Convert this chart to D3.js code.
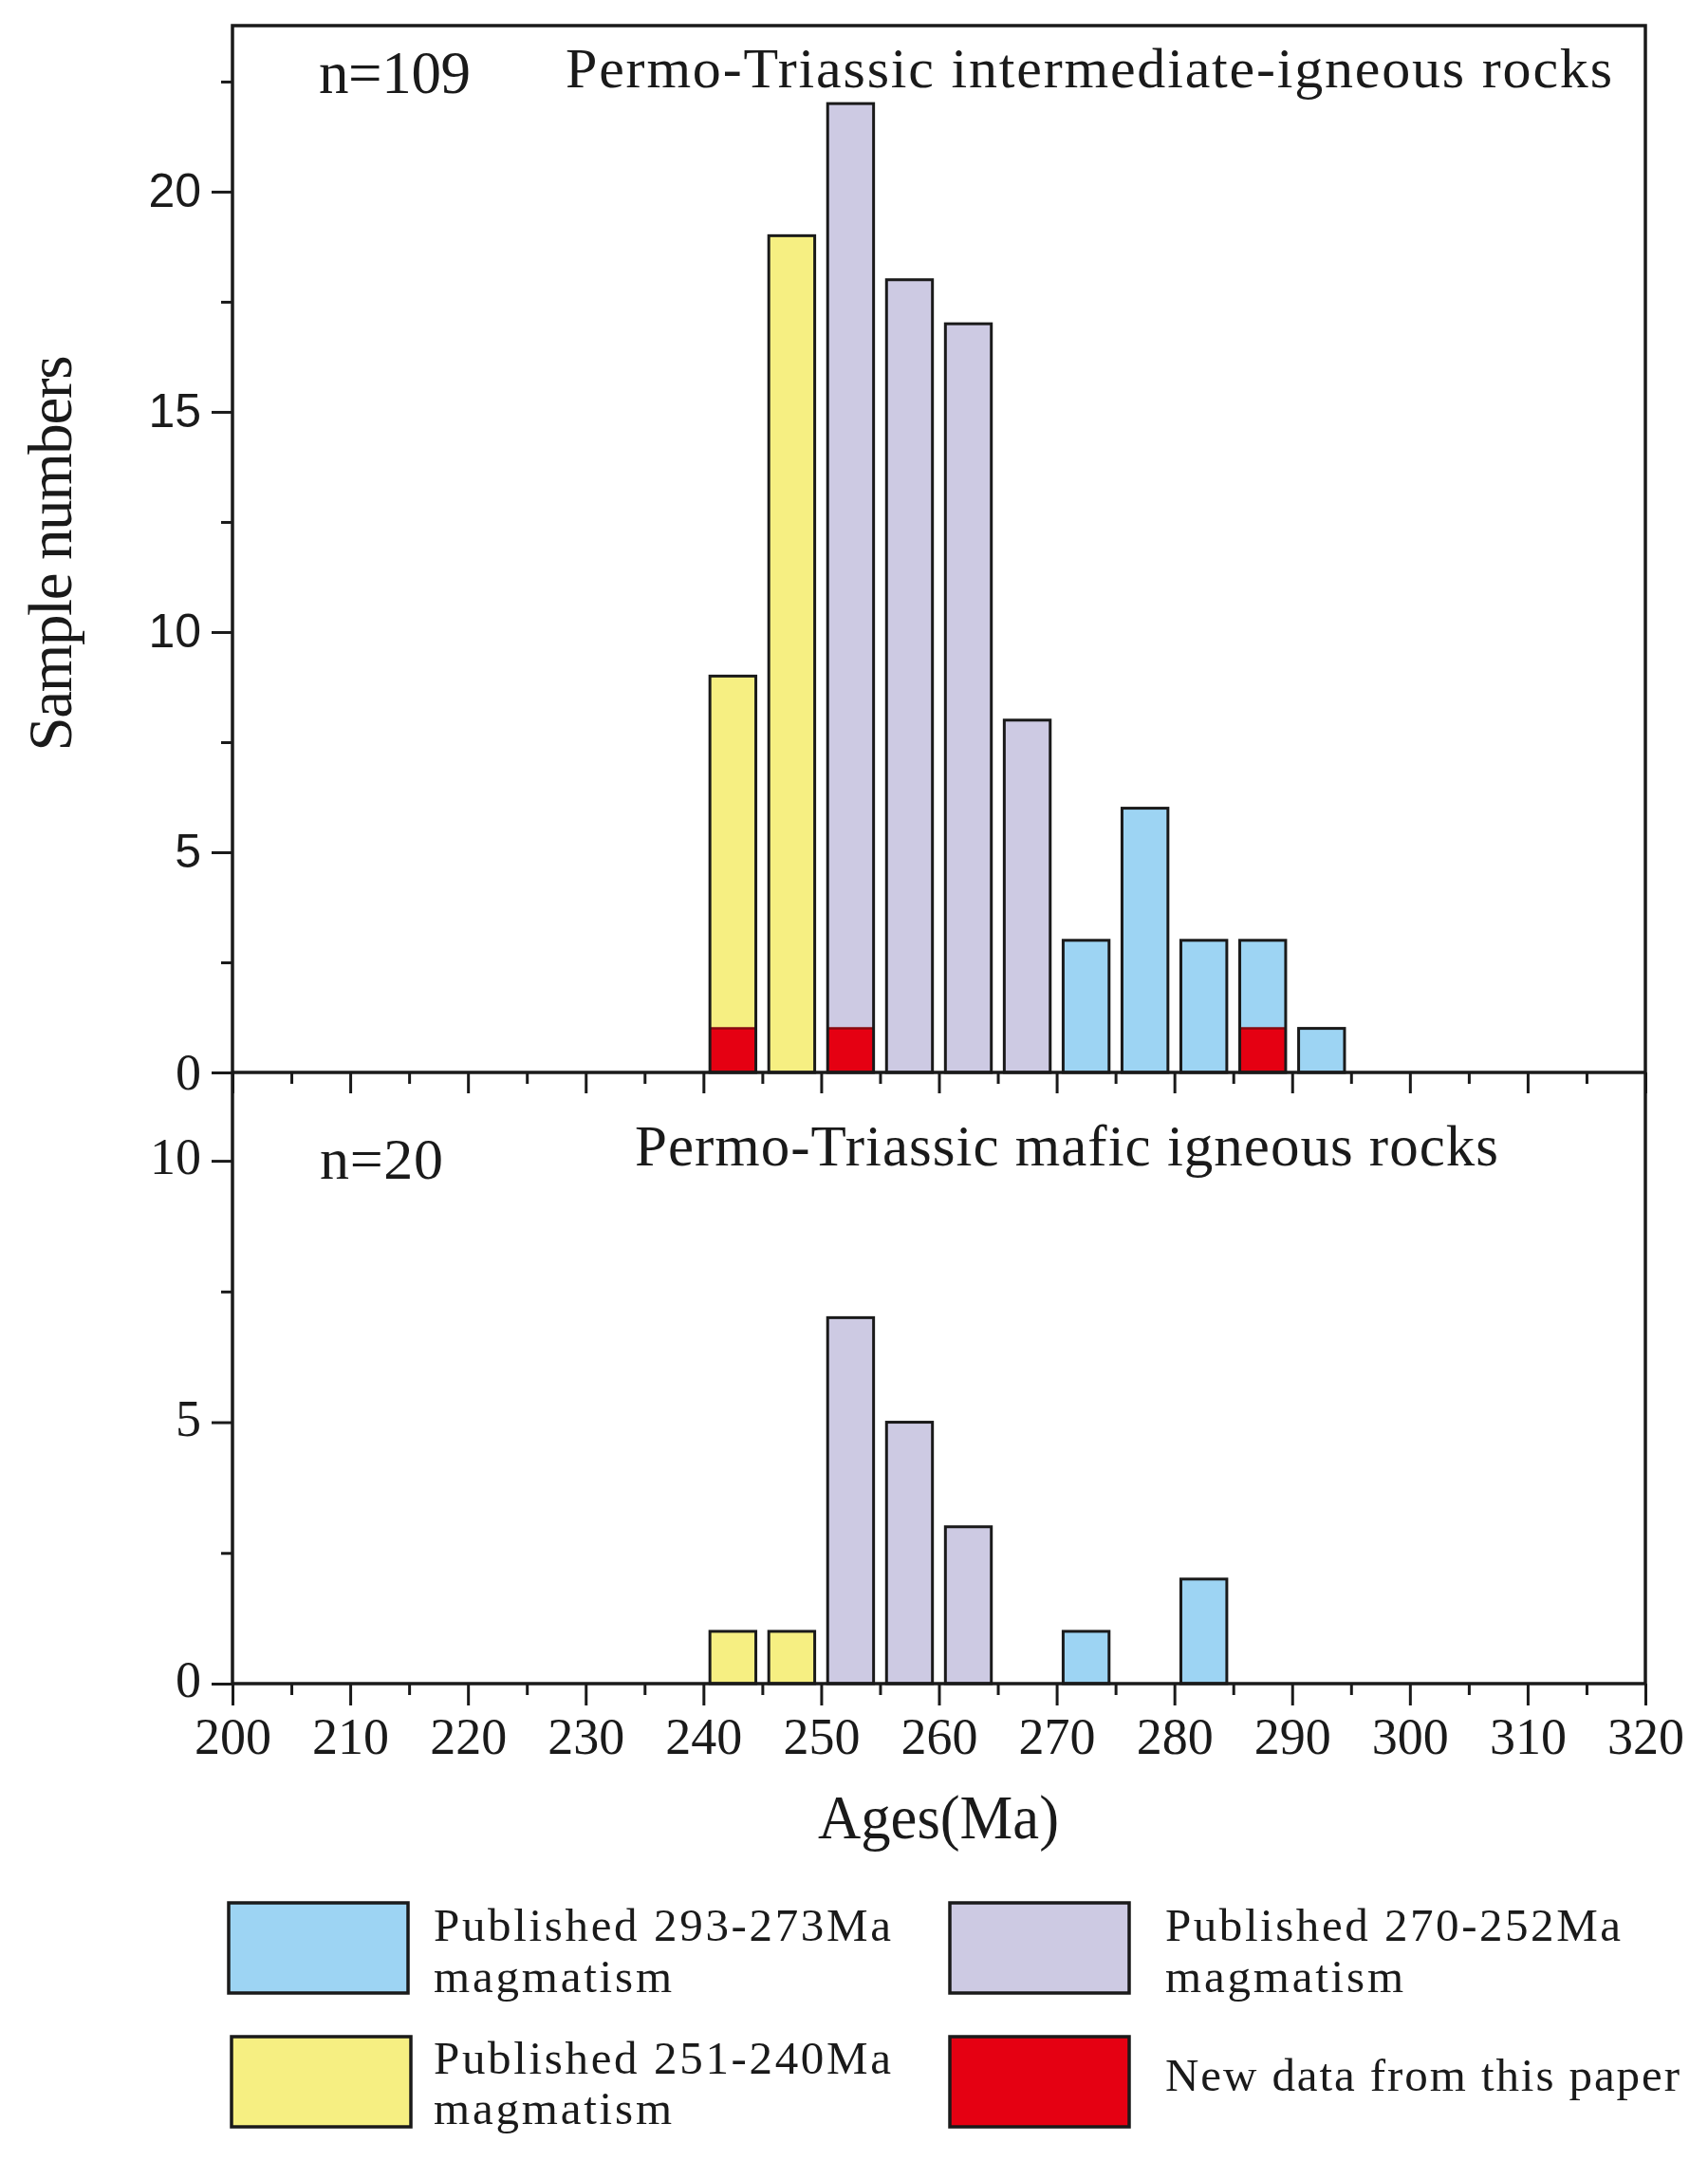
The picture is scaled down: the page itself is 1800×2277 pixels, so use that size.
<!DOCTYPE html>
<html>
<head>
<meta charset="utf-8">
<script src="https://cdn.jsdelivr.net/npm/d3@7/dist/d3.min.js"></script>
<style>
  html, body { margin: 0; padding: 0; background: #ffffff; }
  svg { display: block; }
</style>
</head>
<body>
<script>
// ---------------- DATA ----------------
const binStarts   = [240, 245, 250, 255, 260, 265, 270, 275, 280, 285, 290];
const binGroups   = ["g251_240", "g251_240", "g270_252", "g270_252", "g270_252", "g270_252",
                     "g293_273", "g293_273", "g293_273", "g293_273", "g293_273"];
const upperCounts = [9, 19, 22, 18, 17, 8, 3, 6, 3, 3, 1];
const upperNew    = [1, 0, 1, 0, 0, 0, 0, 0, 0, 1, 0];
const lowerCounts = [1, 1, 7, 5, 3, 0, 1, 0, 2, 0, 0];

const groupKeys   = ["g293_273", "g270_252", "g251_240", "newData"];
const groupColors = ["#9dd4f3", "#cdcae3", "#f6ef82", "#e50012"];
const legendLines = [["Published 293-273Ma", "magmatism"],
                     ["Published 270-252Ma", "magmatism"],
                     ["Published 251-240Ma", "magmatism"],
                     ["New data from this paper"]];

const xMajorTicks  = [200, 210, 220, 230, 240, 250, 260, 270, 280, 290, 300, 310, 320];
const xMinorTicks  = [205, 215, 225, 235, 245, 255, 265, 275, 285, 295, 305, 315];
const upMajorTicks = [0, 5, 10, 15, 20];
const upMinorTicks = [2.5, 7.5, 12.5, 17.5, 22.5];
const loMajorTicks = [0, 5, 10];
const loMinorTicks = [2.5, 7.5];

const upperTitle = "Permo-Triassic intermediate-igneous rocks";
const upperN     = "n=109";
const lowerTitle = "Permo-Triassic mafic igneous rocks";
const lowerN     = "n=20";
const xTitle     = "Ages(Ma)";
const yTitle     = "Sample numbers";

// ---------------- SETUP ----------------
const W = 1800, H = 2277;
const SERIF = "'Liberation Serif', 'Times New Roman', serif";
const SANS  = "'Liberation Sans', Arial, sans-serif";
const INK = "#1a1a1a";

const color = d3.scaleOrdinal().domain(groupKeys).range(groupColors);

const svg = d3.select("body").append("svg")
  .attr("width", W).attr("height", H)
  .attr("viewBox", `0 0 ${W} ${H}`);

svg.append("rect").attr("width", W).attr("height", H).attr("fill", "#ffffff");

const pL = 245, pR = 1734, pT = 27, pM = 1130, pB = 1774;

const x  = d3.scaleLinear().domain([200, 320]).range([pL, pR]);
const yU = d3.scaleLinear().domain([0, 23.77]).range([pM, pT]);
const yL = d3.scaleLinear().domain([0, 11.69]).range([pB, pM]);

const barW0 = 0.55, barW1 = 4.45;

// ---------------- BARS ----------------
function drawBars(g, counts, yScale, newCounts) {
  const data = binStarts.map((b, i) => ({ b, v: counts[i], grp: binGroups[i], n: newCounts ? newCounts[i] : 0 }))
                        .filter(d => d.v > 0);
  g.selectAll("rect.bar").data(data).join("rect")
    .attr("class", "bar")
    .attr("x", d => x(d.b + barW0))
    .attr("width", d => x(d.b + barW1) - x(d.b + barW0))
    .attr("y", d => yScale(d.v))
    .attr("height", d => yScale(0) - yScale(d.v))
    .attr("fill", d => color(d.grp))
    .attr("stroke", "none");
  const nd = data.filter(d => d.n > 0);
  g.selectAll("rect.newd").data(nd).join("rect")
    .attr("class", "newd")
    .attr("x", d => x(d.b + barW0))
    .attr("width", d => x(d.b + barW1) - x(d.b + barW0))
    .attr("y", d => yScale(d.n))
    .attr("height", d => yScale(0) - yScale(d.n))
    .attr("fill", color("newData"));
  g.selectAll("line.newtop").data(nd).join("line")
    .attr("class", "newtop")
    .attr("x1", d => x(d.b + barW0)).attr("x2", d => x(d.b + barW1))
    .attr("y1", d => yScale(d.n)).attr("y2", d => yScale(d.n))
    .attr("stroke", "#8a0a10").attr("stroke-width", 2.5);
  g.selectAll("rect.outline").data(data).join("rect")
    .attr("class", "outline")
    .attr("x", d => x(d.b + barW0))
    .attr("width", d => x(d.b + barW1) - x(d.b + barW0))
    .attr("y", d => yScale(d.v))
    .attr("height", d => yScale(0) - yScale(d.v))
    .attr("fill", "none")
    .attr("stroke", INK).attr("stroke-width", 3);
}

drawBars(svg.append("g"), upperCounts, yU, upperNew);
drawBars(svg.append("g"), lowerCounts, yL, null);

// ---------------- AXES ----------------
function styleAxis(g) {
  g.select(".domain").remove();
  g.selectAll(".tick line").attr("stroke", INK).attr("stroke-width", 3);
}

// Middle x axis (upper panel bottom) - no labels
svg.append("g").attr("transform", `translate(0,${pM})`)
  .call(d3.axisBottom(x).tickValues(xMajorTicks).tickSize(22).tickFormat(""))
  .call(styleAxis);
svg.append("g").attr("transform", `translate(0,${pM})`)
  .call(d3.axisBottom(x).tickValues(xMinorTicks).tickSize(12).tickFormat(""))
  .call(styleAxis);

// Bottom x axis with labels
const xb = svg.append("g").attr("transform", `translate(0,${pB})`)
  .call(d3.axisBottom(x).tickValues(xMajorTicks).tickSize(23).tickPadding(13).tickFormat(d3.format("d")))
  .call(styleAxis);
xb.selectAll("text").attr("font-family", SERIF).attr("font-size", 54).attr("fill", INK);
svg.append("g").attr("transform", `translate(0,${pB})`)
  .call(d3.axisBottom(x).tickValues(xMinorTicks).tickSize(12).tickFormat(""))
  .call(styleAxis);

// Upper y axis
const yu = svg.append("g").attr("transform", `translate(${pL},0)`)
  .call(d3.axisLeft(yU).tickValues(upMajorTicks).tickSize(22).tickPadding(11).tickFormat(d3.format("d")))
  .call(styleAxis);
yu.selectAll("text")
  .attr("font-family", d => d === 0 ? SERIF : SANS)
  .attr("font-size", d => d === 0 ? 54 : 50)
  .attr("fill", INK);
svg.append("g").attr("transform", `translate(${pL},0)`)
  .call(d3.axisLeft(yU).tickValues(upMinorTicks).tickSize(12).tickFormat(""))
  .call(styleAxis);

// Lower y axis
const yl = svg.append("g").attr("transform", `translate(${pL},0)`)
  .call(d3.axisLeft(yL).tickValues(loMajorTicks).tickSize(22).tickPadding(11).tickFormat(d3.format("d")))
  .call(styleAxis);
yl.selectAll("text").attr("font-family", SERIF).attr("font-size", 54).attr("fill", INK)
  .attr("dy", "0.25em");
svg.append("g").attr("transform", `translate(${pL},0)`)
  .call(d3.axisLeft(yL).tickValues(loMinorTicks).tickSize(12).tickFormat(""))
  .call(styleAxis);

// Frame and middle axis line
svg.append("rect")
  .attr("x", pL).attr("y", pT)
  .attr("width", pR - pL).attr("height", pB - pT)
  .attr("fill", "none").attr("stroke", INK).attr("stroke-width", 3.5);
svg.append("line")
  .attr("x1", pL).attr("x2", pR).attr("y1", pM).attr("y2", pM)
  .attr("stroke", INK).attr("stroke-width", 3.5);

// ---------------- TEXT ----------------
function txt(s, xx, yy, size, len, opts = {}) {
  const t = svg.append("text")
    .attr("x", xx).attr("y", yy)
    .attr("font-family", opts.family || SERIF)
    .attr("font-size", size)
    .attr("fill", INK)
    .text(s);
  if (len) t.attr("textLength", len).attr("lengthAdjust", opts.adjust || "spacing");
  if (opts.anchor) t.attr("text-anchor", opts.anchor);
  if (opts.transform) t.attr("transform", opts.transform);
  return t;
}

txt(upperN, 336, 98, 63, 160);
txt(upperTitle, 596, 92, 60, 1103);
txt(lowerN, 337, 1242, 62, 130);
txt(lowerTitle, 669, 1228, 61, 910);
txt(xTitle, 862, 1937, 66, 254, { adjust: "spacingAndGlyphs" });
txt(yTitle, 0, 0, 65, 417, { anchor: "middle", transform: "translate(75,583) rotate(-90)" });

// ---------------- LEGEND ----------------
const legendPos = [
  { bx: 241, by: 2005, tx: 457, ty: [2045, 2099], lens: [482, 251] },
  { bx: 1001, by: 2005, tx: 1228, ty: [2045, 2099], lens: [480, 251] },
  { bx: 244, by: 2146, tx: 457, ty: [2185, 2238], lens: [482, 251] },
  { bx: 1001, by: 2146, tx: 1228, ty: [2203], lens: [542] }
];
const boxW = 189, boxH = 95;
groupKeys.forEach((k, i) => {
  const p = legendPos[i];
  svg.append("rect")
    .attr("x", p.bx).attr("y", p.by).attr("width", boxW).attr("height", boxH)
    .attr("fill", color(k)).attr("stroke", INK).attr("stroke-width", 3.5);
  legendLines[i].forEach((line, j) => {
    txt(line, p.tx, p.ty[j], 49, p.lens[j]);
  });
});
</script>
</body>
</html>
